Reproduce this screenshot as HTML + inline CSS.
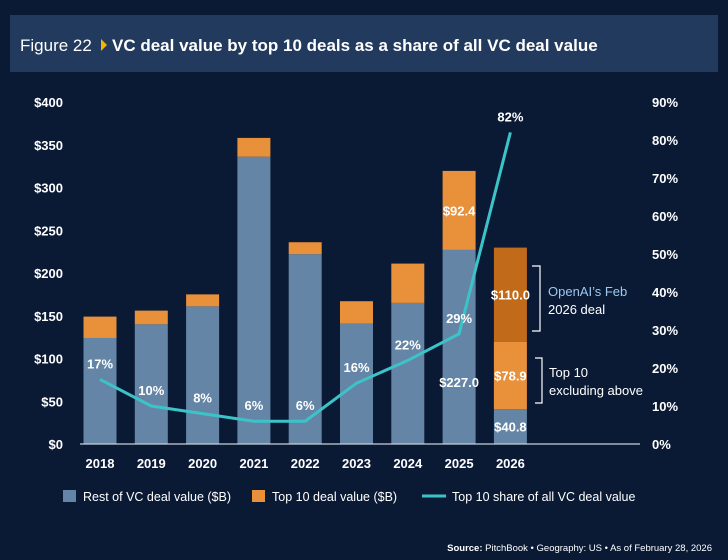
<!DOCTYPE html>
<html><head><meta charset="utf-8"><style>
body{margin:0;background:#0a1a35;width:728px;height:560px;overflow:hidden;font-family:"Liberation Sans",sans-serif}
</style></head><body>
<svg width="728" height="560" style="position:absolute;left:0;top:0">
<rect x="0" y="0" width="728" height="560" fill="#0a1a35"/>
<rect x="10" y="15" width="708" height="57" fill="#213a5e"/>
<text x="20" y="51" fill="#fff" font-size="17">Figure 22</text>
<polygon points="101,39 101,51 107,45" fill="#f5b400"/>
<text x="112" y="51" fill="#fff" font-size="17" font-weight="bold">VC deal value by top 10 deals as a share of all VC deal value</text>
<g id="plot"></g>
<g>
<path d="M532,266 H540 V331 H532" stroke="#fff" fill="none" stroke-width="1.2"/>
<text x="548" y="296" fill="#9ec8ee" font-size="13">OpenAI’s Feb</text>
<text x="548" y="314" fill="#fff" font-size="13">2026 deal</text>
</g>
<g>
<path d="M535,358 H542 V403 H535" stroke="#fff" fill="none" stroke-width="1.2"/>
<text x="549" y="377" fill="#fff" font-size="13">Top 10</text>
<text x="549" y="395" fill="#fff" font-size="13">excluding above</text>
</g>
<g>
<rect x="63" y="490" width="13" height="12" fill="#6585a6"/>
<text x="83" y="501" fill="#fff" font-size="12.5">Rest of VC deal value ($B)</text>
<rect x="252" y="490" width="13" height="12" fill="#e8903a"/>
<text x="272" y="501" fill="#fff" font-size="12.5">Top 10 deal value ($B)</text>
<line x1="422" y1="496" x2="446" y2="496" stroke="#3cc3c8" stroke-width="3"/>
<text x="452" y="501" fill="#fff" font-size="12.5">Top 10 share of all VC deal value</text>
</g>
<text x="712" y="551" fill="#fff" font-size="9.5" text-anchor="end"><tspan font-weight="bold">Source:</tspan> PitchBook • Geography: US • As of February 28, 2026</text>
</svg>
<script>
const years=["2018","2019","2020","2021","2022","2023","2024","2025","2026"];
const rest=[124,140,161,336,222,141,165,227.0,40.8];
const top10=[25,16,14,22,14,26,46,92.4,78.9];
const openai=[0,0,0,0,0,0,0,0,110.0];
const share=[17,10,8,6,6,16,22,29,82];
const leftTicks=[0,50,100,150,200,250,300,350,400];
const rightTicks=[0,10,20,30,40,50,60,70,80,90];
const NS="http://www.w3.org/2000/svg";
const g=document.getElementById('plot');
const y0=444,y1=102;
const yL=v=>y0-(v/400)*(y0-y1);
const yR=v=>y0-(v/90)*(y0-y1);
const xC=i=>100+i*51.3;
const bw=33;
function mk(t,a,txt){const e=document.createElementNS(NS,t);for(const k in a)e.setAttribute(k,a[k]);if(txt!==undefined)e.textContent=txt;g.appendChild(e);return e;}
leftTicks.forEach(v=>{const e=mk('text',{x:63,y:yL(v)+5,fill:'#fff','font-size':13,'font-weight':'bold','text-anchor':'end'},'$'+v);

});
rightTicks.forEach(v=>{const e=mk('text',{x:652,y:yR(v)+5,fill:'#fff','font-size':13,'font-weight':'bold'},v+'%');

});
years.forEach((yr,i)=>{
 const x=xC(i)-bw/2;
 let b=mk('rect',{x:x,y:yL(rest[i]),width:bw,height:y0-yL(rest[i]),fill:'#6585a6'});
 
 
 const t1=rest[i]+top10[i];
 b=mk('rect',{x:x,y:yL(t1),width:bw,height:yL(rest[i])-yL(t1),fill:'#e8903a'});
 
 
 if(openai[i]>0){const t2=t1+openai[i];
  b=mk('rect',{x:x,y:yL(t2),width:bw,height:yL(t1)-yL(t2),fill:'#c06a1a'});
  
  
  const l=mk('text',{x:xC(i),y:(yL(t1)+yL(t2))/2+5,fill:'#fff','font-size':13,'font-weight':'bold','text-anchor':'middle'},'$'+openai[i].toFixed(1));
  
  }
 const xl=mk('text',{x:xC(i),y:468,fill:'#fff','font-size':13,'font-weight':'bold','text-anchor':'middle'},yr);
 
 
 if(i>=7){
  const a=mk('text',{x:xC(i),y:(yL(rest[i])+yL(t1))/2+5,fill:'#fff','font-size':13,'font-weight':'bold','text-anchor':'middle'},'$'+top10[i].toFixed(1));
  
  
  const c=mk('text',{x:xC(i),y:i==8?(yL(rest[i])+y0)/2+5:yL(rest[i])+137,fill:'#fff','font-size':13,'font-weight':'bold','text-anchor':'middle'},'$'+rest[i].toFixed(1));
  
  }
});
const ax=mk('line',{x1:80,y1:y0,x2:640,y2:y0,stroke:'#c8d0da','stroke-width':1.2});


const ln=mk('polyline',{points:share.map((v,i)=>xC(i)+','+yR(v)).join(' '),fill:'none',stroke:'#3cc3c8','stroke-width':3});


share.forEach((v,i)=>{const t=mk('text',{x:xC(i),y:yR(v)-11,fill:'#fff','font-size':13,'font-weight':'bold','text-anchor':'middle'},v+'%');

});
</script>
</body></html>
